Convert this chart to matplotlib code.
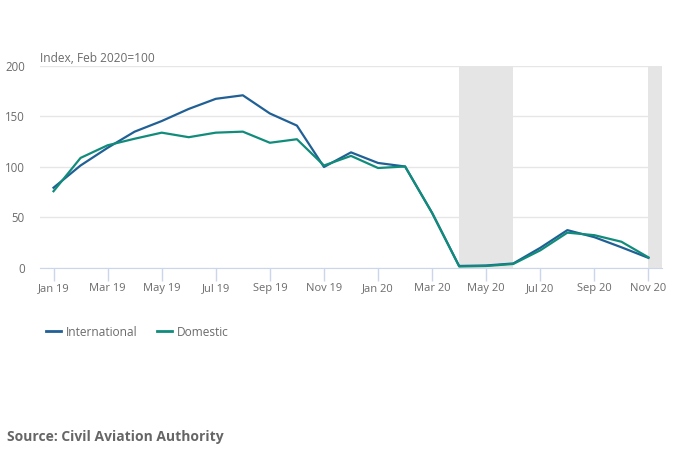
import matplotlib
matplotlib.use("Agg")
import matplotlib.pyplot as plt
from matplotlib.lines import Line2D

months = ["Jan 19", "Feb 19", "Mar 19", "Apr 19", "May 19", "Jun 19", "Jul 19", "Aug 19",
          "Sep 19", "Oct 19", "Nov 19", "Dec 19", "Jan 20", "Feb 20", "Mar 20", "Apr 20",
          "May 20", "Jun 20", "Jul 20", "Aug 20", "Sep 20", "Oct 20", "Nov 20"]
international = [79.5, 101.5, 119, 135, 145.5, 157.5, 167.5, 171, 153, 141, 100, 114.5,
                 104, 100.5, 54.5, 2, 2.5, 4.5, 20, 37.5, 30.5, 20.5, 10]
domestic = [76, 109, 121.5, 128, 134, 129.5, 134, 135, 124, 127.5, 101.5, 111,
            99, 100.5, 54.5, 1.5, 2, 4, 17.5, 35, 32.5, 26, 10.5]
shaded = [("Apr 20", "Jun 20"), ("Nov 20", None)]
yticks = [0, 50, 100, 150, 200]

plt.rcParams['font.family'] = ['Open Sans', 'DejaVu Sans']
txt = "#6b6b6b"
fig = plt.figure(figsize=(6.97, 4.65), dpi=100)
ax = fig.add_axes([40/697, 1-268/465, 622/697, 202/465])

x = list(range(len(months)))
idx = {m: i for i, m in enumerate(months)}
for a, b in shaded:
    x0 = idx[a]
    x1 = idx[b] if b else len(months) - 0.5
    ax.axvspan(x0, x1, color="#e5e5e5", zorder=1, lw=0)

ax.plot(x, international, color="#206095", lw=1.6, zorder=3, solid_joinstyle="round")
ax.plot(x, domestic, color="#118c7b", lw=1.6, zorder=3, solid_joinstyle="round")

ax.set_xlim(-0.5, len(months) - 0.5)
ax.set_ylim(0, 200)
ax.set_yticks(yticks)
ax.set_yticklabels([str(v) for v in yticks])
ax.set_xticks(x[::2])
ax.set_xticklabels(months[::2])
ax.grid(axis="y", color="#e6e6e6", lw=1, zorder=0)
ax.set_axisbelow(True)
for s in ["top", "right", "left"]:
    ax.spines[s].set_visible(False)
ax.spines["bottom"].set_color("#ccd6eb")
ax.spines["bottom"].set_zorder(4)
ax.tick_params(axis="y", length=0, pad=11, labelsize=8.3, labelcolor=txt)
ax.tick_params(axis="x", length=9, width=1, color="#ccd6eb", pad=2, labelsize=8, labelcolor=txt)

fig.text(40/697, 1-58/465, "Index, Feb 2020=100", fontsize=8.6, color=txt, va="center", ha="left")

handles = [Line2D([], [], color="#206095", lw=2), Line2D([], [], color="#118c7b", lw=2)]
fig.legend(handles, ["International", "Domestic"], loc="center left",
           bbox_to_anchor=(35/697, 1-332/465), ncol=2, frameon=False, fontsize=8.6,
           handlelength=1.3, handletextpad=0.4, columnspacing=1.6, labelcolor=txt)

fig.text(7/697, 1-437/465, "Source: Civil Aviation Authority", fontsize=10, fontweight="bold",
         color="#666666", va="center", ha="left")

fig.savefig("out.png", dpi=100)
